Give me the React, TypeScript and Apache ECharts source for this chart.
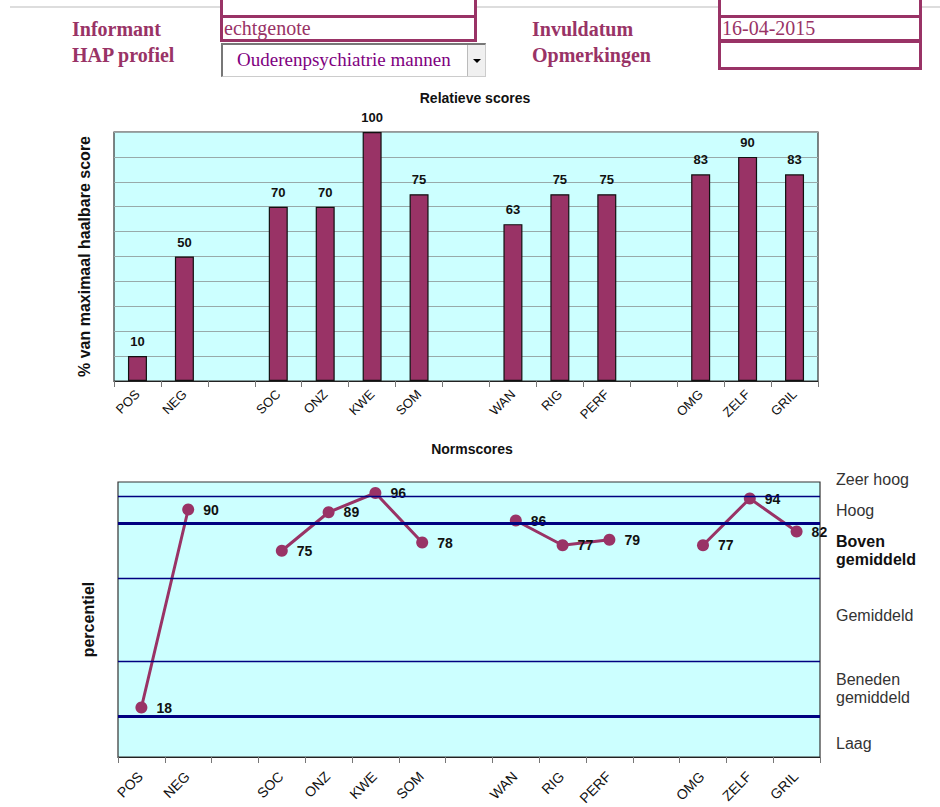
import React, { useEffect, useRef } from "react";
import * as echarts from "echarts";

const categories = ["POS", "NEG", " ", "SOC", "ONZ", "KWE", "SOM", "  ", "WAN", "RIG", "PERF", "   ", "OMG", "ZELF", "GRIL"];
const relatieveScores = [10, 50, null, 70, 70, 100, 75, null, 63, 75, 75, null, 83, 90, 83];
const normScores = [18, 90, null, 75, 89, 96, 78, null, 86, 77, 79, null, 77, 94, 82];
const bandBoundaries = [15, 35, 65, 85, 95];
const majorBoundaries = [15, 85];
const bandLabels = [
  { name: "Zeer hoog", value: 101 },
  { name: "Hoog", value: 89.5 },
  { name: "Boven\ngemiddeld", value: 75, bold: true },
  { name: "Gemiddeld", value: 51.5 },
  { name: "Beneden\ngemiddeld", value: 25 },
  { name: "Laag", value: 5 },
];

const MAROON = "#993366";
const NAVY = "#000080";
const FONT = "Arial, 'Liberation Sans', sans-serif";

function Chart() {
  const ref = useRef<HTMLDivElement>(null);
  useEffect(() => {
    if (!ref.current) return;
    const chart = echarts.init(ref.current, null, { renderer: "svg" });
    const xAxisBase = (gridIndex: number) => ({
      type: "category",
      gridIndex,
      data: categories,
      boundaryGap: true,
      axisLine: { show: true, lineStyle: { color: "#222", width: 1 } },
      axisTick: { show: true, interval: 0, length: 6, lineStyle: { color: "#777" } },
      axisLabel: { show: false },
    });
    const titles = [
      { type: "text", x: 475, y: 98, style: { text: "Relatieve scores", fontSize: 14, fontWeight: "bold", fill: "#111", fontFamily: FONT, align: "center", verticalAlign: "middle" } },
      { type: "text", x: 472, y: 449, style: { text: "Normscores", fontSize: 14, fontWeight: "bold", fill: "#111", fontFamily: FONT, align: "center", verticalAlign: "middle" } },
    ];
    chart.setOption({
      animation: false,
      textStyle: { fontFamily: FONT },
      graphic: titles,
      grid: [
        { left: 114, top: 132, width: 704, height: 249, show: true, backgroundColor: "#ccffff", borderColor: "#333", borderWidth: 1.2 },
        { left: 118, top: 482, width: 702, height: 275, show: true, backgroundColor: "#ccffff", borderColor: "#333", borderWidth: 1.2 },
      ],
      xAxis: [xAxisBase(0), xAxisBase(1)],
      yAxis: [
        {
          type: "value", gridIndex: 0, min: 0, max: 100, interval: 10,
          axisLabel: { show: false }, axisTick: { show: false }, axisLine: { show: false },
          splitLine: { show: true, lineStyle: { color: "#98aaaa", width: 1 } },
          name: "% van maximaal haalbare score", nameLocation: "middle", nameGap: 22,
          nameTextStyle: { fontSize: 16, fontWeight: "bold", color: "#111", fontFamily: FONT },
        },
        {
          type: "value", gridIndex: 1, min: 0, max: 100,
          axisLabel: { show: false }, axisTick: { show: false }, axisLine: { show: false },
          splitLine: { show: false },
          name: "percentiel", nameLocation: "middle", nameGap: 22,
          nameTextStyle: { fontSize: 16, fontWeight: "bold", color: "#111", fontFamily: FONT },
        },
      ],
      series: [
        {
          type: "bar", xAxisIndex: 0, yAxisIndex: 0, data: relatieveScores, barWidth: 19,
          itemStyle: { color: MAROON, borderColor: "#111", borderWidth: 1.2 },
          label: { show: true, position: "top", distance: 8, fontSize: 13, fontWeight: "bold", color: "#111", fontFamily: FONT },
        },
        {
          type: "line", xAxisIndex: 1, yAxisIndex: 1, z: 1, data: categories.map(() => null),
          symbol: "none", lineStyle: { opacity: 0 },
          markLine: {
            silent: true, symbol: ["none", "none"], animation: false,
            data: bandBoundaries.map((v) => ({
              yAxis: v,
              lineStyle: { color: NAVY, type: "solid", width: majorBoundaries.includes(v) ? 3 : 1.4, opacity: 1 },
              label: { show: false },
            })),
          },
        },
        {
          type: "line", xAxisIndex: 1, yAxisIndex: 1, z: 3, data: normScores, connectNulls: false,
          symbol: "circle", symbolSize: 12,
          itemStyle: { color: MAROON },
          lineStyle: { color: MAROON, width: 3 },
          label: { show: true, position: "right", distance: 9, fontSize: 14, fontWeight: "bold", color: "#111", fontFamily: FONT },
        },
      ],
    });
    const extra: any[] = [];
    const addLabels = (xAxisIndex: number, yAxisIndex: number, dx: number, dy: number, fontSize: number) => {
      const y0 = chart.convertToPixel({ yAxisIndex }, 0) as number;
      categories.forEach((c) => {
        if (!c.trim()) return;
        const x = chart.convertToPixel({ xAxisIndex }, c) as number;
        extra.push({
          type: "text", x: x + dx, y: y0 + dy, rotation: Math.PI / 4,
          style: { text: c, fontSize, fill: "#111", fontFamily: FONT, align: "right", verticalAlign: "middle" },
        });
      });
    };
    addLabels(0, 0, 0, 11, 13);
    addLabels(1, 1, -1, 17, 14);
    const lastX = chart.convertToPixel({ xAxisIndex: 1 }, categories[categories.length - 1]) as number;
    const bandW = (lastX - (chart.convertToPixel({ xAxisIndex: 1 }, categories[categories.length - 2]) as number)) / 2;
    bandLabels.forEach((b) => {
      const y = chart.convertToPixel({ yAxisIndex: 1 }, b.value) as number;
      extra.push({
        type: "text", x: lastX + bandW + 16, y,
        style: {
          text: b.name, fontSize: 16, lineHeight: 18, fill: b.bold ? "#111" : "#333",
          fontWeight: b.bold ? "bold" : "normal", fontFamily: FONT, align: "left", verticalAlign: "middle",
        },
      });
    });
    chart.setOption({ graphic: [...titles, ...extra] });
    return () => chart.dispose();
  }, []);
  return <div ref={ref} style={{ position: "absolute", left: 0, top: 0, width: 940, height: 807 }} />;
}

const serif = "'Liberation Serif', 'Times New Roman', serif";
const labelStyle: React.CSSProperties = {
  position: "absolute", fontFamily: serif, fontWeight: "bold", fontSize: 20, color: MAROON, lineHeight: "24px",
};
const boxStyle: React.CSSProperties = {
  position: "absolute", boxSizing: "border-box", border: `3px solid ${MAROON}`, background: "#fff",
  fontFamily: serif, fontSize: 20, color: MAROON, lineHeight: "20px", paddingLeft: 1, overflow: "hidden",
};

export default function App() {
  return (
    <div style={{ position: "absolute", left: 0, top: 0, width: 940, height: 807, overflow: "hidden", background: "#fff" }}>
      <Chart />
      <div style={{ position: "absolute", left: 10, top: 6, width: 930, height: 2, background: "#dddddd" }} />
      <div style={{ ...boxStyle, left: 220, top: -20, width: 257, height: 38 }} />
      <div style={{ ...boxStyle, left: 718, top: -20, width: 204, height: 38 }} />
      <div style={{ ...labelStyle, left: 72, top: 17 }}>Informant</div>
      <div style={{ ...labelStyle, left: 72, top: 43 }}>HAP profiel</div>
      <div style={{ ...labelStyle, left: 532, top: 17 }}>Invuldatum</div>
      <div style={{ ...labelStyle, left: 532, top: 43 }}>Opmerkingen</div>
      <div style={{ ...boxStyle, left: 220, top: 15, width: 257, height: 27 }}>echtgenote</div>
      <div style={{ ...boxStyle, left: 718, top: 15, width: 204, height: 27 }}>16-04-2015</div>
      <div style={{ ...boxStyle, left: 718, top: 40, width: 204, height: 30 }} />
      <div
        style={{
          position: "absolute", left: 221, top: 43, width: 265, height: 34, boxSizing: "border-box",
          borderTop: "2px solid #777", borderLeft: "2px solid #777", borderRight: "1px solid #ccc", borderBottom: "1px solid #ccc",
          background: "#fff", fontFamily: serif, fontSize: 19, color: "#800080", lineHeight: "30px", paddingLeft: 14,
        }}
      >
        Ouderenpsychiatrie mannen
        <div
          style={{
            position: "absolute", right: 0, top: 0, width: 18, height: 31, boxSizing: "border-box",
            background: "#f0f0f0", borderLeft: "1px solid #bbb",
          }}
        >
          <div
            style={{
              position: "absolute", left: 5, top: 14, width: 0, height: 0,
              borderLeft: "4px solid transparent", borderRight: "4px solid transparent", borderTop: "4px solid #000",
            }}
          />
        </div>
      </div>
    </div>
  );
}
